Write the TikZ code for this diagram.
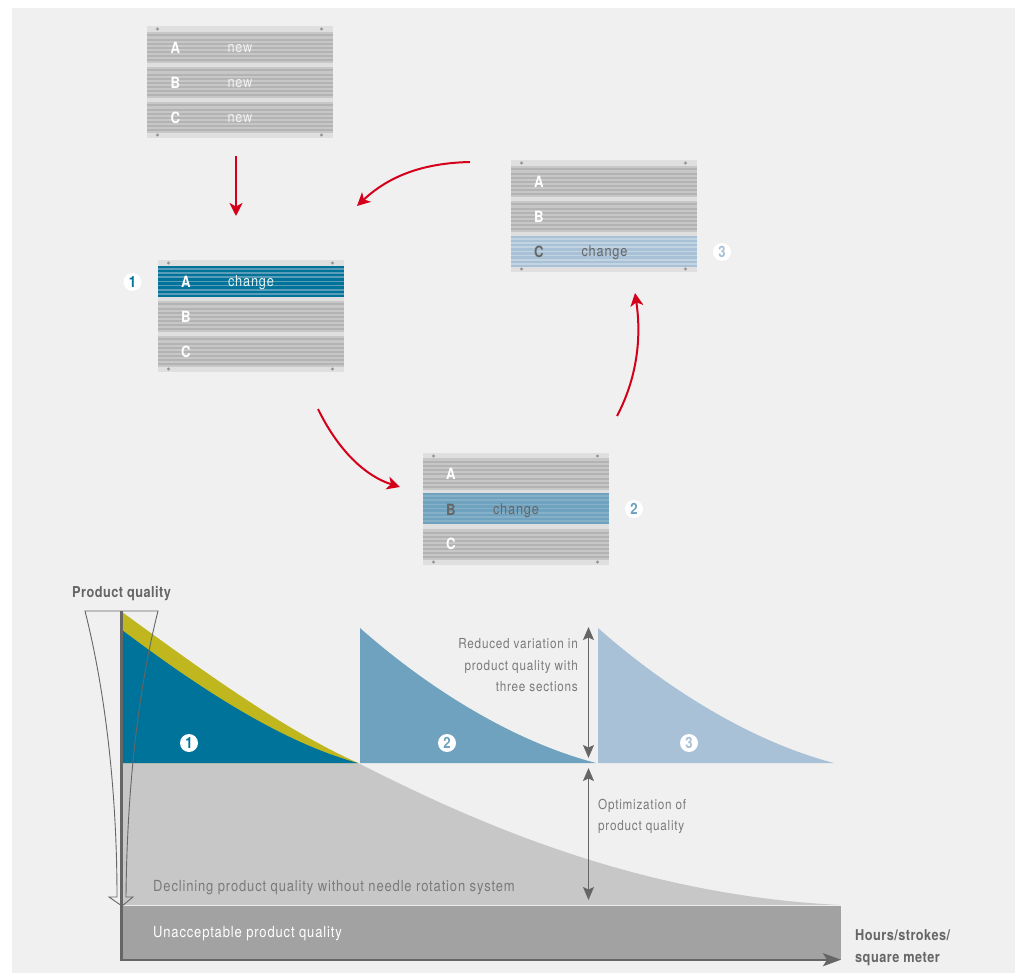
\documentclass[tikz,border=0pt]{standalone}
\usepackage{fontspec}
\setmainfont[FakeStretch=0.85,LetterSpace=5.5]{TeX Gyre Heros}
\newfontfamily\boldfam[FakeStretch=0.85,LetterSpace=3]{TeX Gyre Heros Bold}
\usetikzlibrary{arrows.meta,calc}
\definecolor{panel}{HTML}{F0F0F0}
\definecolor{plate}{HTML}{DEDFDE}
\definecolor{ink}{HTML}{666666}
\definecolor{txtgray}{HTML}{7A7A7A}
\definecolor{grayA}{HTML}{C6C7C6}
\definecolor{grayB}{HTML}{B2B3B2}
\definecolor{tealA}{HTML}{5B9DB8}
\definecolor{tealB}{HTML}{00739A}
\definecolor{midA}{HTML}{85B0C8}
\definecolor{midB}{HTML}{6FA2BF}
\definecolor{lightA}{HTML}{C2D3E2}
\definecolor{lightB}{HTML}{A9C1D6}
\definecolor{redarrow}{HTML}{D4001A}
\definecolor{olive}{HTML}{BFB71D}
\definecolor{lightgrayfill}{HTML}{C6C7C6}
\definecolor{darkgrayfill}{HTML}{A2A2A2}
\tikzset{
  x=1pt,y=-1pt,
  lab/.style={font=\fontsize{15}{18}\selectfont,text=white,inner sep=0pt},
  bold/.style={font=\fontsize{15.5}{18}\boldfam\selectfont,text=white,inner sep=0pt},
  txt/.style={font=\fontsize{15.3}{21.5}\selectfont,text=txtgray,inner sep=0pt},
  note/.style={font=\fontsize{13.8}{21.5}\selectfont,text=txtgray,inner sep=0pt},
  heading/.style={font=\fontsize{15}{22}\boldfam\selectfont,text=ink,inner sep=0pt},
  redflow/.style={draw=redarrow,line width=2pt,-{Stealth[length=13pt,width=13pt,inset=3.5pt]}},
  dim/.style={draw=ink,line width=1.4pt,{Stealth[length=13pt,width=11pt,inset=2.5pt]}-{Stealth[length=13pt,width=11pt,inset=2.5pt]}},
  badge/.style={circle,fill=white,minimum size=18pt,inner sep=0pt,font=\fontsize{15.5}{18}\boldfam\selectfont},
  pin/.style={fill=ink!70}
}
% gray band: light edge at the top and bottom
\newcommand{\band}[4]{%
  \fill[#3] (#1,#2) rectangle ++(186,31);
  \foreach \k in {0,...,6}{\fill[#4] (#1,#2+2.5+\k*4.15) rectangle ++(186,2);}
}
% coloured band: dark edge at the top and bottom
\newcommand{\cband}[4]{%
  \fill[#3] (#1,#2) rectangle ++(186,31);
  \foreach \k in {0,...,7}{\fill[#4] (#1,#2+\k*4.1) rectangle ++(186,2.3);}
}
\newcommand{\plate}[2]{%
  \fill[plate] (#1,#2) rectangle ++(186,112);
  \fill[pin] (#1+10.5,#2+3) circle (1.6);
  \fill[pin] (#1+174.5,#2+3) circle (1.6);
  \fill[pin] (#1+10.5,#2+109) circle (1.6);
  \fill[pin] (#1+174.5,#2+109) circle (1.6);
}
\begin{document}
\begin{tikzpicture}
\useasboundingbox (0,0) rectangle (1015,973);
\fill[white] (0,0) rectangle (1015,973);
\fill[panel] (12,8) rectangle (1015,973);

% plate new
\plate{147}{26}
\band{147}{32}{grayA}{grayB}
\band{147}{67}{grayA}{grayB}
\band{147}{102}{grayA}{grayB}
\node[bold] (na) at (175.5,48) {A};
\node[bold] (nb) at (175.5,83) {B};
\node[bold] (nc) at (175.5,118) {C};
\node[lab,text=white!90!gray] (n1) at (240,49) {new};
\node[lab,text=white!90!gray] (n2) at (240,84) {new};
\node[lab,text=white!90!gray] (n3) at (240,119) {new};

% plate 1
\plate{158}{260}
\cband{158}{266}{tealA}{tealB}
\band{158}{301}{grayA}{grayB}
\band{158}{336}{grayA}{grayB}
\node[bold] (oa) at (186,282) {A};
\node[bold] (ob) at (186,317) {B};
\node[bold] (oc) at (186,352) {C};
\node[lab,text=white!90!teal] (o1) at (251,283) {change};
\node[badge,text=tealB] (b1) at (132.5,282) {1};

% plate 2
\plate{423}{453}
\band{423}{458.5}{grayA}{grayB}
\cband{423}{493}{midA}{midB}
\band{423}{529}{grayA}{grayB}
\node[bold] (ta) at (451,474) {A};
\node[bold,text=ink] (tb) at (451,510) {B};
\node[bold] (tc) at (451,544) {C};
\node[lab,text=ink] (t1) at (516,511) {change};
\node[badge,text=midB] (b2) at (634,509) {2};

% plate 3
\plate{511}{160}
\band{511}{166}{grayA}{grayB}
\band{511}{201}{grayA}{grayB}
\cband{511}{236}{lightA}{lightB}
\node[bold] (ha) at (539,182) {A};
\node[bold] (hb) at (539,217) {B};
\node[bold,text=ink] (hc) at (539,252) {C};
\node[lab,text=ink] (h1) at (604.5,253) {change};
\node[badge,text=lightB] (b3) at (722,252) {3};

% red flow
\coordinate (r1s) at (236,156); \coordinate (r1e) at (236,216);
\coordinate (r2s) at (318,409); \coordinate (r2e) at (400,487);
\coordinate (r3s) at (617,416); \coordinate (r3e) at (635,293);
\coordinate (r4s) at (470,162); \coordinate (r4e) at (357,206);
\draw[redflow] (r1s) -- (r1e);
\draw[redflow] (r2s) .. controls (338,450) and (365,476) .. (r2e);
\draw[redflow] (r3s) .. controls (636,380) and (642,340) .. (r3e);
\draw[redflow] (r4s) .. controls (425,163) and (390,175) .. (r4e);

% chart
\fill[lightgrayfill] (122,763) -- (358,763) .. controls (480,825) and (640,895) .. (840,905) -- (122,905) -- cycle;
\fill[darkgrayfill] (122,906) rectangle (840.5,960);
\draw[white!85!gray,line width=0.7pt] (122,905.5) -- (840,905.5);
\fill[olive] (122,612) .. controls (195,665) and (280,728) .. (358,763) -- (122,763) -- cycle;
\fill[tealB] (122,630) .. controls (195,685) and (280,742) .. (358,763) -- (122,763) -- cycle;
\fill[midB] (360,628) .. controls (430,690) and (515,742) .. (596,763) -- (360,763) -- cycle;
\fill[lightB] (598,628) .. controls (668,690) and (753,742) .. (834,763) -- (598,763) -- cycle;

% hollow funnel arrow
\draw[ink,line width=0.9pt] (85,611) -- (158,611) .. controls (138,690) and (127,790) .. (126,897) -- (133,897) -- (122,906) -- (109,897) -- (117,897) .. controls (117,790) and (105,690) .. (85,611) -- cycle;
% axes
\draw[ink,line width=2.6pt] (121.5,611) -- (121.5,960);
\coordinate (axO) at (120.2,959.7);
\coordinate (axX) at (841,959.7);
\draw[ink,line width=2.3pt,-{Stealth[length=18pt,width=13pt,inset=4pt]}] (axO) -- (axX);

% dimension arrows
\coordinate (d1a) at (588.5,627); \coordinate (d1b) at (588.5,758);
\coordinate (d2a) at (588.5,768); \coordinate (d2b) at (588.5,900);
\draw[dim] (d1a) -- (d1b);
\draw[dim] (d2a) -- (d2b);

\node[badge,text=tealB] (c1) at (189,743) {1};
\node[badge,text=midB] (c2) at (447,743) {2};
\node[badge,text=lightB] (c3) at (689,743) {3};

\node[heading,anchor=west] (pq) at (72,594) {Product quality};
\node[note,anchor=east,align=right] (rv) at (578,665.5) {Reduced variation in\\product quality with\\three sections};
\node[note,anchor=west,align=left] (op) at (598,816.5) {Optimization of\\product quality};
\node[txt,anchor=west] (dq) at (153,888) {Declining product quality without needle rotation system};
\node[txt,anchor=west,text=white] (uq) at (153,934) {Unacceptable product quality};
\node[heading,anchor=west,align=left] (hs) at (855,947.5) {Hours/strokes/\\square meter};
\end{tikzpicture}
\end{document}
